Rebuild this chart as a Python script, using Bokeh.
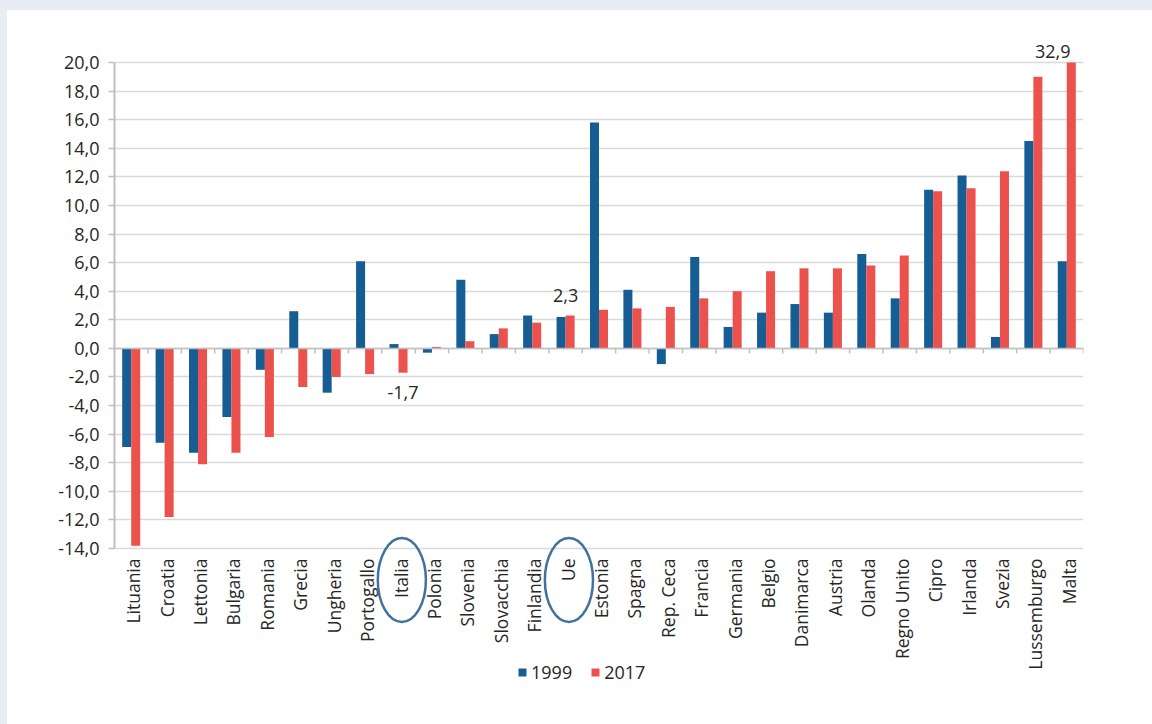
import math
from bokeh.plotting import figure
from bokeh.models import (ColumnDataSource, Range1d, FixedTicker, CustomJSTickFormatter,
                          Legend, LegendItem)
from bokeh.core.properties import value
from bokeh.transform import dodge
from bokeh.embed import file_html
from bokeh.resources import INLINE

categories = ["Lituania", "Croatia", "Lettonia", "Bulgaria", "Romania", "Grecia", "Ungheria",
              "Portogallo", "Italia", "Polonia", "Slovenia", "Slovacchia", "Finlandia", "Ue",
              "Estonia", "Spagna", "Rep. Ceca", "Francia", "Germania", "Belgio", "Danimarca",
              "Austria", "Olanda", "Regno Unito", "Cipro", "Irlanda", "Svezia", "Lussemburgo", "Malta"]
v1999 = [-6.9, -6.6, -7.3, -4.8, -1.5, 2.6, -3.1, 6.1, 0.3, -0.3, 4.8, 1.0, 2.3, 2.2,
         15.8, 4.1, -1.1, 6.4, 1.5, 2.5, 3.1, 2.5, 6.6, 3.5, 11.1, 12.1, 0.8, 14.5, 6.1]
v2017 = [-13.8, -11.8, -8.1, -7.3, -6.2, -2.7, -2.0, -1.8, -1.7, 0.1, 0.5, 1.4, 1.8, 2.3,
         2.7, 2.8, 2.9, 3.5, 4.0, 5.4, 5.6, 5.6, 5.8, 6.5, 11.0, 11.2, 12.4, 19.0, 32.9]
series_names = ["1999", "2017"]
yticks = [-14, -12, -10, -8, -6, -4, -2, 0, 2, 4, 6, 8, 10, 12, 14, 16, 18, 20]
labelled = ["Malta", "Ue", "Italia"]   # 2017 values shown as data labels
highlighted = ["Italia", "Ue"]

BLUE = "#165d94"
RED = "#ec524d"
TXT = "#262626"
GREY = "#bfbfbf"
FONT = "Open Sans"
FS_NUM = "18px"
FS_CAT = "17.5px"

YMIN, YMAX = yticks[0], yticks[-1]
PXU = 486 / (YMAX - YMIN)          # pixels per data unit on the value axis
TOP_PAD_PX, BOT_PAD_PX = 32, 157   # room above/below the axis span (labels, legend)

def fmt(v):
    return f"{v:.1f}".replace(".", ",")

src = ColumnDataSource(dict(
    cat=categories, a=v1999, b=v2017,
    a_top=[max(min(v, YMAX), YMIN) for v in v1999],
    b_top=[max(min(v, YMAX), YMIN) for v in v2017],
))

p = figure(x_range=categories,
           y_range=Range1d(YMIN - BOT_PAD_PX / PXU, YMAX + TOP_PAD_PX / PXU),
           frame_width=969, frame_height=486 + TOP_PAD_PX + BOT_PAD_PX,
           min_border_left=107, min_border_right=76, min_border_top=20, min_border_bottom=25,
           x_axis_location=None,
           output_backend="svg", toolbar_location=None)
p.background_fill_color = "white"
p.border_fill_color = "white"
p.outline_line_color = None

# value axis
p.xgrid.grid_line_color = None
p.ygrid.grid_line_color = "#d9d9d9"
p.ygrid.grid_line_width = 1.5
p.yaxis.ticker = FixedTicker(ticks=yticks)
p.yaxis.bounds = (YMIN, YMAX)
p.yaxis.formatter = CustomJSTickFormatter(code="return tick.toFixed(1).replace('.', ',');")
p.yaxis.axis_line_color = GREY
p.yaxis.axis_line_width = 2
p.yaxis.major_tick_line_color = GREY
p.yaxis.major_tick_line_width = 1.5
p.yaxis.major_tick_out = 6
p.yaxis.major_tick_in = 0
p.yaxis.minor_tick_line_color = None
p.yaxis.major_label_standoff = 9
p.yaxis.major_label_text_font = FONT
p.yaxis.major_label_text_font_size = FS_NUM
p.yaxis.major_label_text_color = TXT

bw = 0.27
r1 = p.vbar(x=dodge("cat", -bw / 2, range=p.x_range), top="a_top", bottom=0, width=bw,
            source=src, fill_color=BLUE, line_color=None)
r2 = p.vbar(x=dodge("cat", bw / 2, range=p.x_range), top="b_top", bottom=0, width=bw,
            source=src, fill_color=RED, line_color=None)

# zero (category) axis line with ticks at category boundaries
tick_len = 5 / PXU
p.segment(x0=dodge("cat", -0.5, range=p.x_range), x1=dodge("cat", 0.5, range=p.x_range),
          y0=0, y1=0, source=src, line_color=GREY, line_width=1.5)
p.segment(x0=dodge("cat", -0.5, range=p.x_range), x1=dodge("cat", -0.5, range=p.x_range),
          y0=0, y1=-tick_len, source=src, line_color=GREY, line_width=1.5)
p.segment(x0=dodge("cat", 0.5, range=p.x_range), x1=dodge("cat", 0.5, range=p.x_range),
          y0=0, y1=-tick_len, source=ColumnDataSource(dict(cat=[categories[-1]])),
          line_color=GREY, line_width=1.5)

# category labels (vertical, below the value axis span)
p.text(x=dodge("cat", 0.06, range=p.x_range), y=YMIN - 10 / PXU, text="cat", source=src,
       angle=math.pi / 2, text_align="right", text_baseline="middle",
       text_font=value(FONT), text_font_size=FS_CAT, text_color=TXT)

# data labels (2017 values)
lab_specs = {"Malta": (None, -0.42), "Ue": (1.41, 0.0), "Italia": (-1.38, 0.135)}
for cat in labelled:
    i = categories.index(cat)
    v = v2017[i]
    pad, dx = lab_specs[cat]
    y = (YMAX + 11 / PXU) if pad is None else v + pad
    p.text(x=dodge("cat", dx, range=p.x_range), y="y", text="txt",
           source=ColumnDataSource(dict(cat=[cat], y=[y], txt=[fmt(v)])),
           text_align="center", text_baseline="middle",
           text_font=value(FONT), text_font_size=FS_NUM, text_color=TXT)

# ellipses around highlighted category labels
p.ellipse(x=dodge("cat", 0.1, range=p.x_range), y=YMIN - 31.5 / PXU, width=1.44,
          height=84 / PXU, source=ColumnDataSource(dict(cat=highlighted)),
          fill_color=None, line_color="#41719c", line_width=2.5)

legend = Legend(items=[LegendItem(label=series_names[0], renderers=[r1]),
                       LegendItem(label=series_names[1], renderers=[r2])],
                orientation="horizontal", location=(403, 21),
                label_text_font=FONT, label_text_font_size=FS_NUM, label_text_color=TXT,
                glyph_width=10, glyph_height=10, label_standoff=4, spacing=18,
                padding=2, margin=0, border_line_color=None, background_fill_alpha=0)
p.add_layout(legend, "center")

html = file_html(p, INLINE)
css = ("<style>html{background:#ffffff;}"
       "body{margin:0;border-top:10px solid #e8ecf4;border-left:7px solid #e8ecf4;"
       "background:#ffffff;overflow:hidden;}</style>")
html = html.replace("</head>", css + "</head>", 1)
open("out.html", "w").write(html)
